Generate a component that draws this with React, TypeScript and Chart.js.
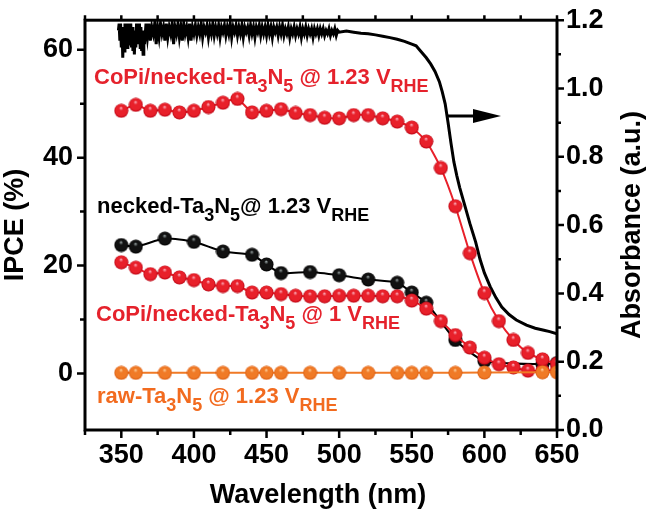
import React, { useEffect, useRef } from 'react';
import { Chart, registerables } from 'chart.js';
Chart.register(...registerables);

// ---------- DATA ----------
const sparseWl = [350, 360, 380, 400, 420, 440, 450, 460, 480, 500, 520, 540, 550, 560, 580, 600, 640, 650];
const neckedIPCE = [23.8, 23.5, 25.0, 24.4, 22.6, 22.0, 20.2, 18.6, 18.8, 18.2, 17.4, 16.8, 15.0, 13.1, 6.2, 2.3, 1.7, 1.9];
const rawIPCE = [0.1, 0.1, 0.1, 0.1, 0.1, 0.1, 0.1, 0.1, 0.1, 0.1, 0.1, 0.1, 0.1, 0.1, 0.1, 0.15, 0.2, 0.2];

const denseWl = [350, 360, 370, 380, 390, 400, 410, 420, 430, 440, 450, 460, 470, 480, 490, 500, 510, 520, 530, 540, 550, 560, 570, 580, 590, 600, 610, 620, 630, 640, 650];
const copi123IPCE = [48.7, 49.8, 48.7, 48.9, 48.4, 48.7, 49.4, 50.2, 50.9, 48.4, 48.7, 49.0, 48.3, 47.9, 47.4, 47.3, 47.9, 47.9, 47.3, 46.7, 45.6, 43.0, 38.1, 31.0, 22.3, 14.9, 9.7, 6.2, 3.8, 2.6, 1.8];
const copi1IPCE = [20.6, 19.6, 18.4, 18.7, 17.8, 17.3, 16.5, 16.2, 16.2, 15.0, 15.0, 14.7, 14.4, 14.3, 14.3, 14.4, 14.4, 14.4, 14.3, 14.3, 13.5, 12.0, 9.7, 7.1, 4.8, 2.9, 1.7, 1.1, 0.5, 0.5, 0.6];

// Absorbance: noisy section 348-366 nm (0.5 nm), 367-500 nm (1 nm), then the absorption edge
const absNoisyWl = [
  348, 348.5, 349, 349.5, 350, 350.5, 351, 351.5, 352, 352.5, 353, 353.5, 354, 354.5, 355, 355.5, 356, 356.5,
  357, 357.5, 358, 358.5, 359, 359.5, 360, 360.5, 361, 361.5, 362, 362.5, 363, 363.5, 364, 364.5, 365, 365.5, 366
];
const absNoisy = [
  1.17, 1.19, 1.14, 1.19, 1.12, 1.18, 1.09, 1.17, 1.11, 1.19, 1.13, 1.18, 1.12, 1.19, 1.14, 1.18, 1.13, 1.19,
  1.12, 1.18, 1.11, 1.16, 1.10, 1.17, 1.12, 1.19, 1.14, 1.18, 1.13, 1.19, 1.12, 1.18, 1.11, 1.15, 1.10, 1.17, 1.13
];
const absBandWl = [
  367, 368, 369, 370, 371, 372, 373, 374, 375, 376, 377, 378, 379, 380, 381, 382, 383, 384, 385, 386, 387, 388, 389, 390,
  391, 392, 393, 394, 395, 396, 397, 398, 399, 400, 401, 402, 403, 404, 405, 406, 407, 408, 409, 410, 411, 412, 413, 414,
  415, 416, 417, 418, 419, 420, 421, 422, 423, 424, 425, 426, 427, 428, 429, 430, 431, 432, 433, 434, 435, 436, 437, 438,
  439, 440, 441, 442, 443, 444, 445, 446, 447, 448, 449, 450, 451, 452, 453, 454, 455, 456, 457, 458, 459, 460, 461, 462,
  463, 464, 465, 466, 467, 468, 469, 470, 471, 472, 473, 474, 475, 476, 477, 478, 479, 480, 481, 482, 483, 484, 485, 486,
  487, 488, 489, 490, 491, 492, 493, 494, 495, 496, 497, 498, 499, 500
];
const absBand = [
  1.19, 1.15, 1.19, 1.14, 1.18, 1.16, 1.19, 1.13, 1.18, 1.15, 1.19, 1.16, 1.18, 1.14, 1.19, 1.15, 1.18, 1.16, 1.19, 1.13,
  1.18, 1.16, 1.19, 1.15, 1.18, 1.14, 1.19, 1.16, 1.18, 1.15, 1.19, 1.14, 1.18, 1.16, 1.185, 1.155, 1.18, 1.16, 1.19, 1.15,
  1.18, 1.165, 1.185, 1.15, 1.18, 1.16, 1.19, 1.155, 1.18, 1.16, 1.185, 1.15, 1.18, 1.165, 1.185, 1.155, 1.18, 1.16, 1.19, 1.15,
  1.18, 1.165, 1.185, 1.155, 1.18, 1.16, 1.185, 1.15, 1.18, 1.165, 1.18, 1.155, 1.185, 1.16, 1.18, 1.15, 1.18, 1.165, 1.185, 1.155,
  1.18, 1.16, 1.18, 1.155, 1.185, 1.16, 1.18, 1.15, 1.18, 1.165, 1.18, 1.155, 1.18, 1.16, 1.185, 1.155, 1.175, 1.16, 1.18, 1.15,
  1.175, 1.16, 1.18, 1.155, 1.175, 1.16, 1.18, 1.15, 1.175, 1.16, 1.18, 1.155, 1.175, 1.16, 1.175, 1.15, 1.175, 1.16, 1.175, 1.155,
  1.175, 1.16, 1.175, 1.155, 1.17, 1.16, 1.175, 1.155, 1.17, 1.16, 1.175, 1.155, 1.17, 1.165
];
const absEdgeWl = [
  505, 510, 515, 520, 525, 530, 535, 540, 545, 550, 553, 555, 560, 563, 566, 569, 571, 573, 575, 577, 579,
  581, 583, 586, 590, 594, 597, 600, 604, 608, 612, 617, 622, 629, 635, 641, 645, 650
];
const absEdge = [
  1.168, 1.165, 1.162, 1.16, 1.157, 1.153, 1.149, 1.144, 1.138, 1.13, 1.125, 1.115, 1.09, 1.072, 1.05, 1.02, 0.99, 0.955, 0.90, 0.84, 0.785,
  0.745, 0.71, 0.665, 0.605, 0.55, 0.50, 0.46, 0.42, 0.387, 0.36, 0.338, 0.322, 0.307, 0.298, 0.292, 0.288, 0.282
];

const xTicks = [350, 400, 450, 500, 550, 600, 650];
const yLeftTicks = [0, 20, 40, 60];
const yRightTicks = [0, 0.2, 0.4, 0.6, 0.8, 1.0, 1.2];

// ---------- STYLE ----------
const FONT = "'Liberation Sans', Arial, Helvetica, sans-serif";
const RED = '#e8202a';
const ORANGE = '#f07a26';
const RED_TEXT = '#e5222c';
const ORANGE_TEXT = '#f26b1f';

function makeSphere(base: string, light: string, dark: string, r: number) {
  const c = document.createElement('canvas');
  const s = Math.ceil(r * 2 + 1);
  c.width = s;
  c.height = s;
  const g = c.getContext('2d')!;
  const cx = s / 2, cy = s / 2;
  const grad = g.createRadialGradient(cx - r * 0.05, cy - r * 0.45, 0, cx, cy, r);
  grad.addColorStop(0, light);
  grad.addColorStop(0.3, base);
  grad.addColorStop(0.8, base);
  grad.addColorStop(1, dark);
  g.fillStyle = grad;
  g.beginPath();
  g.arc(cx, cy, r, 0, Math.PI * 2);
  g.fill();
  return c;
}

type Seg = { t: string; sub?: boolean };
function drawRich(ctx: CanvasRenderingContext2D, x: number, y: number, segs: Seg[], color: string, size: number) {
  ctx.save();
  ctx.fillStyle = color;
  ctx.textBaseline = 'alphabetic';
  ctx.textAlign = 'left';
  let cx = x;
  for (const s of segs) {
    const fs = s.sub ? Math.round(size * 0.8) : size;
    ctx.font = `bold ${fs}px ${FONT}`;
    ctx.fillText(s.t, cx, s.sub ? y + size * 0.36 : y);
    cx += ctx.measureText(s.t).width;
  }
  ctx.restore();
}

const decorPlugin = {
  id: 'decor',
  afterDraw(chart: any) {
    const { ctx, chartArea } = chart;
    const { left, right, top, bottom } = chartArea;
    const xs = chart.scales.x;
    const yl = chart.scales.y;
    const yr = chart.scales.y2;
    ctx.save();
    ctx.strokeStyle = '#000';
    ctx.lineWidth = 3;
    ctx.lineCap = 'butt';
    ctx.strokeRect(left, top, right - left, bottom - top);
    ctx.lineWidth = 2.5;
    ctx.beginPath();
    for (let v = 0; v <= 60; v += 10) {
      const y = yl.getPixelForValue(v);
      const len = v % 20 === 0 ? 8 : 5;
      ctx.moveTo(left - len, y);
      ctx.lineTo(left, y);
    }
    for (let w = 325; w <= 650; w += 25) {
      const x = xs.getPixelForValue(w);
      const len = w % 50 === 0 ? 8 : 5;
      ctx.moveTo(x, bottom);
      ctx.lineTo(x, bottom + len);
      ctx.moveTo(x, top);
      ctx.lineTo(x, top - 5);
    }
    for (let i = 0; i <= 12; i++) {
      const y = yr.getPixelForValue(i / 10);
      const len = i % 2 === 0 ? 7 : 4;
      ctx.moveTo(right, y);
      ctx.lineTo(right + len, y);
    }
    ctx.stroke();

    // axis titles
    ctx.fillStyle = '#000';
    ctx.font = `bold 27px ${FONT}`;
    ctx.textAlign = 'center';
    ctx.textBaseline = 'middle';
    ctx.fillText('Wavelength (nm)', (left + right) / 2 - 3, 496);
    ctx.save();
    ctx.translate(16, (top + bottom) / 2);
    ctx.rotate(-Math.PI / 2);
    ctx.fillText('IPCE (%)', 0, 0);
    ctx.restore();
    ctx.save();
    ctx.translate(633, (top + bottom) / 2);
    ctx.rotate(-Math.PI / 2);
    ctx.fillText('Absorbance (a.u.)', 0, 0);
    ctx.restore();

    // annotations
    const S = 22;
    drawRich(ctx, 94, 84, [{ t: 'CoPi/necked-Ta' }, { t: '3', sub: true }, { t: 'N' }, { t: '5', sub: true }, { t: ' @ 1.23 V' }, { t: 'RHE', sub: true }], RED_TEXT, S);
    drawRich(ctx, 97, 213, [{ t: 'necked-Ta' }, { t: '3', sub: true }, { t: 'N' }, { t: '5', sub: true }, { t: '@ 1.23 V' }, { t: 'RHE', sub: true }], '#000', S);
    drawRich(ctx, 96, 321, [{ t: 'CoPi/necked-Ta' }, { t: '3', sub: true }, { t: 'N' }, { t: '5', sub: true }, { t: ' @ 1 V' }, { t: 'RHE', sub: true }], RED_TEXT, S);
    drawRich(ctx, 97, 403, [{ t: 'raw-Ta' }, { t: '3', sub: true }, { t: 'N' }, { t: '5', sub: true }, { t: ' @ 1.23 V' }, { t: 'RHE', sub: true }], ORANGE_TEXT, S);

    // arrow
    ctx.strokeStyle = '#000';
    ctx.fillStyle = '#000';
    ctx.lineWidth = 3;
    ctx.beginPath();
    ctx.moveTo(448, 116);
    ctx.lineTo(478, 116);
    ctx.stroke();
    ctx.beginPath();
    ctx.moveTo(501, 116);
    ctx.lineTo(473, 109);
    ctx.lineTo(473, 123);
    ctx.closePath();
    ctx.fill();
    ctx.restore();
  },
};

export default function App() {
  const ref = useRef<HTMLCanvasElement>(null);
  useEffect(() => {
    const redS = makeSphere(RED, '#ffc0cf', '#b80010', 7);
    const blackS = makeSphere('#111', '#a8b4b4', '#000', 7);
    const orS = makeSphere(ORANGE, '#ffd8a8', '#d85a10', 7);
    const tickFont = { family: FONT, size: 27, weight: 'bold' as const };
    const absWl = [...absNoisyWl, ...absBandWl, ...absEdgeWl];
    const absVals = [...absNoisy, ...absBand, ...absEdge];
    const chart = new Chart(ref.current!, {
      type: 'line',
      data: {
        datasets: [
          {
            label: 'raw',
            data: sparseWl.map((w, i) => ({ x: w, y: rawIPCE[i] })),
            borderColor: ORANGE,
            borderWidth: 2,
            pointStyle: orS as any,
            pointRadius: 7,
            yAxisID: 'y',
            tension: 0,
          },
          {
            label: 'copi123',
            data: denseWl.map((w, i) => ({ x: w, y: copi123IPCE[i] })),
            borderColor: RED,
            borderWidth: 2,
            pointStyle: redS as any,
            pointRadius: 7,
            yAxisID: 'y',
            tension: 0.2,
          },
          {
            label: 'copi1',
            data: denseWl.map((w, i) => ({ x: w, y: copi1IPCE[i] })),
            borderColor: RED,
            borderWidth: 2,
            pointStyle: redS as any,
            pointRadius: 7,
            yAxisID: 'y',
            tension: 0.2,
          },
          {
            label: 'necked',
            data: sparseWl.map((w, i) => ({ x: w, y: neckedIPCE[i] })),
            borderColor: '#000',
            borderWidth: 2,
            pointStyle: blackS as any,
            pointRadius: 7,
            yAxisID: 'y',
            tension: 0.2,
          },
          {
            label: 'abs',
            data: absWl.map((w, i) => ({ x: w, y: absVals[i] })),
            borderColor: '#000',
            borderWidth: 3,
            pointRadius: 0,
            yAxisID: 'y2',
            tension: 0,
          },
        ],
      },
      options: {
        animation: false,
        responsive: false,
        maintainAspectRatio: false,
        layout: { padding: { top: 13, left: 0, right: 0, bottom: 0 } },
        plugins: { legend: { display: false }, tooltip: { enabled: false } },
        scales: {
          x: {
            type: 'linear',
            min: 325,
            max: 650,
            afterBuildTicks: (s: any) => { s.ticks = xTicks.map((v) => ({ value: v })); },
            afterFit: (s: any) => { s.height = 87; },
            grid: { display: true, drawOnChartArea: false, drawTicks: true, tickLength: 8, tickColor: 'rgba(0,0,0,0)' },
            border: { display: false },
            ticks: { font: tickFont, color: '#000', padding: 1, maxRotation: 0, autoSkip: false },
          },
          y: {
            type: 'linear',
            position: 'left',
            min: -10.5,
            max: 65.5,
            afterBuildTicks: (s: any) => { s.ticks = yLeftTicks.map((v) => ({ value: v })); },
            afterFit: (s: any) => { s.width = 85; },
            grid: { display: true, drawOnChartArea: false, drawTicks: true, tickLength: 8, tickColor: 'rgba(0,0,0,0)' },
            border: { display: false },
            ticks: { font: tickFont, color: '#000', padding: 4, autoSkip: false },
          },
          y2: {
            type: 'linear',
            position: 'right',
            min: 0,
            max: 1.2,
            afterBuildTicks: (s: any) => { s.ticks = yRightTicks.map((v) => ({ value: v })); },
            afterFit: (s: any) => { s.width = 90; },
            grid: { display: true, drawOnChartArea: false, drawTicks: true, tickLength: 6, tickColor: 'rgba(0,0,0,0)' },
            border: { display: false },
            ticks: { font: tickFont, color: '#000', padding: 3, autoSkip: false, callback: (v: any) => Number(v).toFixed(1) },
          },
        },
      },
      plugins: [decorPlugin],
    });
    return () => chart.destroy();
  }, []);
  return (
    <div style={{ position: 'fixed', left: 0, top: 0, width: 647, height: 517, background: '#fff' }}>
      <canvas ref={ref} width={647} height={517} />
    </div>
  );
}
